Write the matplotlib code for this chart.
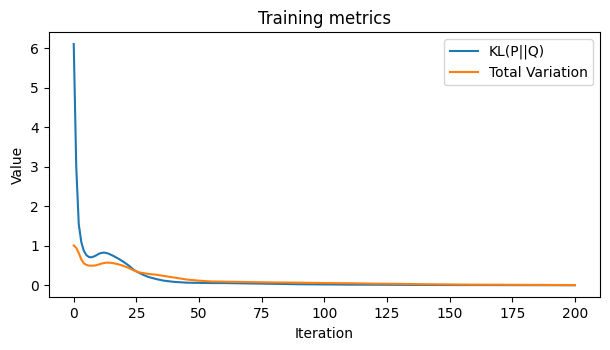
import matplotlib
matplotlib.use("Agg")
import matplotlib.pyplot as plt

iterations = [0, 1, 2, 3, 4, 5, 6, 7, 8, 9, 10, 11, 12, 13, 14, 15, 16, 18, 20, 22, 24, 26,
              28, 30, 33, 36, 40, 45, 50, 55, 60, 65, 70, 80, 90, 100, 110, 120, 130, 140,
              150, 160, 170, 180, 190, 200]

kl_values = [6.10, 3.00, 1.55, 1.10, 0.88, 0.77, 0.72, 0.71, 0.73, 0.76, 0.80, 0.82, 0.83,
             0.82, 0.80, 0.77, 0.74, 0.67, 0.59, 0.50, 0.39, 0.32, 0.26, 0.21, 0.16, 0.12,
             0.09, 0.07, 0.065, 0.06, 0.06, 0.055, 0.05, 0.04, 0.03, 0.025, 0.02, 0.018,
             0.015, 0.012, 0.01, 0.009, 0.008, 0.007, 0.006, 0.005]

tv_values = [1.01, 0.95, 0.82, 0.66, 0.56, 0.52, 0.50, 0.50, 0.50, 0.51, 0.53, 0.55, 0.565,
             0.575, 0.575, 0.57, 0.56, 0.53, 0.49, 0.44, 0.38, 0.33, 0.31, 0.29, 0.27, 0.24,
             0.20, 0.15, 0.12, 0.10, 0.095, 0.09, 0.085, 0.075, 0.07, 0.06, 0.055, 0.045,
             0.04, 0.03, 0.025, 0.02, 0.018, 0.015, 0.012, 0.01]

series_labels = ["KL(P||Q)", "Total Variation"]

fig, ax = plt.subplots(figsize=(6.1, 3.5), dpi=100)
ax.plot(iterations, kl_values, label=series_labels[0], color="#1f77b4")
ax.plot(iterations, tv_values, label=series_labels[1], color="#ff7f0e")
ax.set_title("Training metrics")
ax.set_xlabel("Iteration")
ax.set_ylabel("Value")
ax.legend(loc="upper right")
fig.subplots_adjust(left=0.0798, right=0.9836, bottom=0.1506, top=0.9086)
fig.savefig("out.png", dpi=100)
